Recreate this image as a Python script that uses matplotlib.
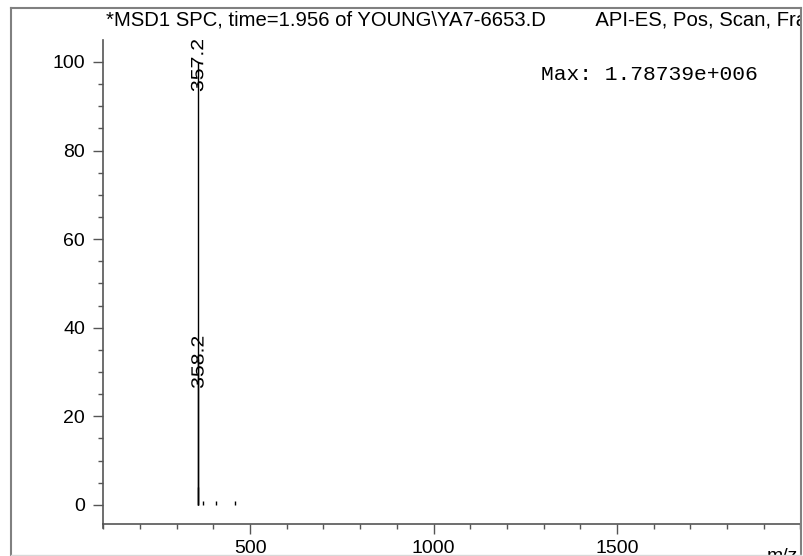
import matplotlib
matplotlib.use("Agg")
import matplotlib.pyplot as plt
from matplotlib.lines import Line2D
from matplotlib.patches import Rectangle, PathPatch
from matplotlib.ticker import MultipleLocator
from matplotlib.textpath import TextPath
from matplotlib.font_manager import FontProperties
from matplotlib.transforms import Affine2D

# ---- data ----
mz = [357.2, 358.2, 359.2, 373.0, 408.0, 460.0]
abundance = [100.0, 33.0, 4.0, 1.0, 0.8, 1.0]
labeled_mz = [357.2, 358.2]
labeled_height = [100.0, 33.0]
label_text = ["357.2", "358.2"]
title = "*MSD1 SPC, time=1.956 of YOUNG\\YA7-6653.D         API-ES, Pos, Scan, Frag: 70"
max_text = "Max: 1.78739e+006"
x_major = [500, 1000, 1500]
y_major = [0, 20, 40, 60, 80, 100]

W, H = 804, 556
fig = plt.figure(figsize=(W / 100, H / 100), dpi=100)
plt.rcParams['font.family'] = ['Liberation Sans', 'DejaVu Sans']

def fx(px):
    return px / W

def fy(py):
    return 1 - py / H

ax_left, ax_right, ax_top, ax_bottom = 103.3, 800.5, 40, 524
ax = fig.add_axes([fx(ax_left), fy(ax_bottom), (ax_right - ax_left) / W, (ax_bottom - ax_top) / H])
ax.set_xlim(100, 2000)
ax.set_ylim(-4.3, 104.95)

ax.vlines(mz, 0, abundance, color='black', lw=1.0)

# stretched, rotated peak labels (as drawn by the instrument software)
fp = FontProperties(family='Liberation Sans')
for x, h, t in zip(labeled_mz, labeled_height, label_text):
    px, py = ax.transData.transform((x, h - 6.8))
    tp = TextPath((0, 0), t, size=17.7, prop=fp)
    tr = Affine2D().scale(1.2, 1.0).rotate_deg(90).translate(px + 5.5, py)
    patch = PathPatch(tp, transform=tr, facecolor='black', edgecolor='none', lw=0)
    ax.add_artist(patch)

for s in ['top', 'right']:
    ax.spines[s].set_visible(False)
spine_col = '#555555'
ax.spines['left'].set_color(spine_col)
ax.spines['bottom'].set_color(spine_col)
ax.spines['left'].set_linewidth(1.2)
ax.spines['bottom'].set_linewidth(1.2)

ax.set_xticks(x_major)
ax.set_yticks(y_major)
ax.xaxis.set_minor_locator(MultipleLocator(100))
ax.yaxis.set_minor_locator(MultipleLocator(5))
ax.tick_params(axis='both', which='major', length=7.2, width=1.0, color=spine_col,
               labelsize=14, labelcolor='black')
ax.tick_params(axis='both', which='minor', length=3.6, width=1.0, color=spine_col)
ax.tick_params(axis='y', which='major', pad=5.8)
ax.tick_params(axis='x', which='major', pad=4.0)

# small extension of y axis below x axis
fig.add_artist(Line2D([fx(ax_left), fx(ax_left)], [fy(524), fy(528)], color=spine_col, lw=1.2))

# title and max text
fig.text(fx(106), fy(21), title, fontsize=14.6, ha='left', va='center', color='black')
fig.text(fx(541), fy(75), max_text, fontsize=15.3, family='Liberation Mono',
         ha='left', va='center', color='black')
fig.text(fx(767), fy(548), "m/z", fontsize=14, ha='left', va='top', color='black')

# clip anything beyond right frame
fig.add_artist(Rectangle((fx(801.5), 0), 1 - fx(801.5), 1, transform=fig.transFigure,
                         facecolor='white', edgecolor='none', zorder=10))
# frame
frame_col = '#808080'
fig.add_artist(Line2D([fx(11), fx(11)], [fy(8), 0], color=frame_col, lw=1.5, zorder=11))
fig.add_artist(Line2D([fx(800.8), fx(800.8)], [fy(8), 0], color=frame_col, lw=1.5, zorder=11))
fig.add_artist(Line2D([fx(11), fx(800.8)], [fy(8), fy(8)], color=frame_col, lw=1.5, zorder=11))
fig.add_artist(Line2D([fx(11), fx(800.8)], [fy(554.5), fy(554.5)], color='#d8d8d8', lw=1.0, zorder=11))

fig.savefig("out.png", dpi=100)
